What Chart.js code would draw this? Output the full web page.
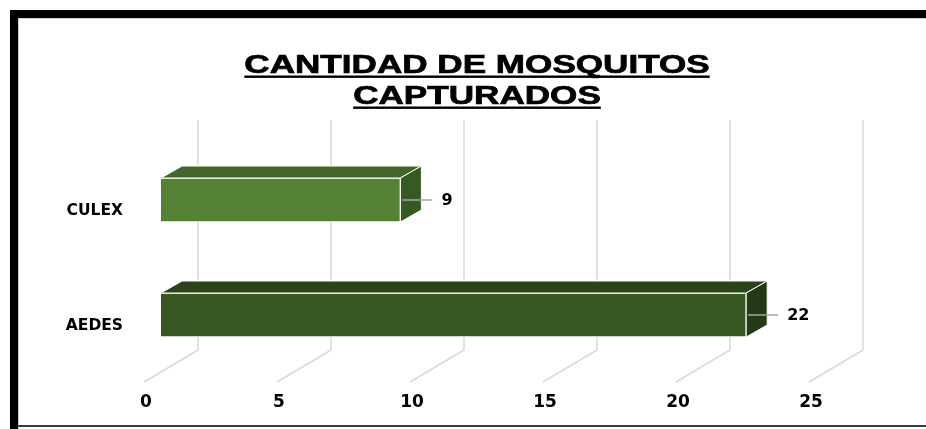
<!DOCTYPE html>
<html>
<head>
<meta charset="utf-8">
<script src="https://cdn.jsdelivr.net/npm/chart.js@4/dist/chart.umd.min.js"></script>
<style>
  html, body { margin: 0; background: #fff; }
  canvas { display: block; }
</style>
</head>
<body>
<canvas id="chart" width="926" height="429"></canvas>
<script>
// data
const categories = ['CULEX', 'AEDES'];
const captured = [9, 22];
const xTicks = [0, 5, 10, 15, 20, 25];
const titleLines = ['CANTIDAD DE MOSQUITOS', 'CAPTURADOS'];

const frontColors = ['#548235', '#385723'];
const topColors = ['#41682a', '#2b431b'];
const sideColors = ['#375a23', '#243916'];

// fake 3D geometry (px)
const DEPTH_X = 21, DEPTH_Y = 12;   // bar extrusion
const WALL_X = 37, WALL_Y = 22.5;   // back wall where the gridlines live
const FLOOR_X = -17, FLOOR_Y = 9.5; // front edge of the floor

const framePlugin = {
  id: 'frame',
  beforeDraw(chart) {
    const ctx = chart.ctx;
    ctx.save();
    ctx.fillStyle = '#fff';
    ctx.fillRect(0, 0, chart.width, chart.height);
    ctx.fillStyle = '#000';
    ctx.fillRect(10, 10, chart.width - 10, 8);
    ctx.fillRect(10, 10, 8, chart.height - 10);
    ctx.strokeStyle = '#cfcfcf';
    ctx.lineWidth = 1;
    ctx.beginPath();
    ctx.moveTo(18, 18.5); ctx.lineTo(chart.width, 18.5);
    ctx.moveTo(18.5, 18); ctx.lineTo(18.5, chart.height);
    ctx.stroke();
    ctx.strokeStyle = '#3a3a3a';
    ctx.lineWidth = 2;
    ctx.beginPath();
    ctx.moveTo(18, 426); ctx.lineTo(chart.width, 426);
    ctx.stroke();
    ctx.restore();
  }
};

const wallPlugin = {
  id: 'wall',
  beforeDatasetsDraw(chart) {
    const ctx = chart.ctx, x = chart.scales.x, a = chart.chartArea;
    ctx.save();
    ctx.strokeStyle = '#d9d9d9';
    ctx.lineWidth = 1.5;
    xTicks.forEach(v => {
      const px = x.getPixelForValue(v);
      ctx.beginPath();
      ctx.moveTo(px + WALL_X, a.top - WALL_Y);
      ctx.lineTo(px + WALL_X, a.bottom - WALL_Y);
      ctx.lineTo(px + FLOOR_X, a.bottom + FLOOR_Y);
      ctx.stroke();
    });
    ctx.restore();
  }
};

const extrudePlugin = {
  id: 'extrude',
  afterDatasetsDraw(chart) {
    const ctx = chart.ctx;
    const meta = chart.getDatasetMeta(0);
    ctx.save();
    ctx.lineJoin = 'round';
    meta.data.forEach((bar, i) => {
      const p = bar.getProps(['x', 'y', 'base', 'height'], true);
      const x0 = p.base, x1 = p.x;
      const yt = p.y - p.height / 2, yb = p.y + p.height / 2;
      ctx.strokeStyle = '#ffffff';
      ctx.lineWidth = 1;
      // top face
      ctx.fillStyle = topColors[i];
      ctx.beginPath();
      ctx.moveTo(x0, yt);
      ctx.lineTo(x0 + DEPTH_X, yt - DEPTH_Y);
      ctx.lineTo(x1 + DEPTH_X, yt - DEPTH_Y);
      ctx.lineTo(x1, yt);
      ctx.closePath();
      ctx.fill(); ctx.stroke();
      // side face
      ctx.fillStyle = sideColors[i];
      ctx.beginPath();
      ctx.moveTo(x1, yt);
      ctx.lineTo(x1 + DEPTH_X, yt - DEPTH_Y);
      ctx.lineTo(x1 + DEPTH_X, yb - DEPTH_Y);
      ctx.lineTo(x1, yb);
      ctx.closePath();
      ctx.fill(); ctx.stroke();

      // data label with leader line
      ctx.strokeStyle = '#a6a6a6';
      ctx.lineWidth = 1.5;
      ctx.beginPath();
      ctx.moveTo(x1 + 2, p.y);
      ctx.lineTo(x1 + 32, p.y);
      ctx.stroke();
      ctx.fillStyle = '#000';
      ctx.font = 'bold 16px "DejaVu Sans"';
      ctx.textAlign = 'left';
      ctx.textBaseline = 'middle';
      ctx.fillText(String(captured[i]), x1 + 41, p.y + 1);
    });
    ctx.restore();
  }
};

// title is drawn by hand so it can be stretched like the original
const titlePlugin = {
  id: 'stretchedTitle',
  afterDraw(chart) {
    const ctx = chart.ctx;
    const cx = 477, stretch = 1.35;
    ctx.save();
    ctx.font = 'bold 26px "Liberation Sans", Arial, sans-serif';
    ctx.fillStyle = '#000';
    ctx.strokeStyle = '#000';
    ctx.lineWidth = 0.7;
    ctx.textAlign = 'center';
    ctx.textBaseline = 'alphabetic';
    titleLines.forEach((line, i) => {
      const base = 72.5 + i * 31;
      const w = ctx.measureText(line).width * stretch;
      ctx.save();
      ctx.translate(cx, base);
      ctx.scale(stretch, 1);
      ctx.fillText(line, 0, 0);
      ctx.strokeText(line, 0, 0);
      ctx.restore();
      ctx.fillRect(cx - w / 2, base + 3, w, 2.4);
    });
    ctx.restore();
  }
};

new Chart(document.getElementById('chart'), {
  type: 'bar',
  data: {
    labels: categories,
    datasets: [{
      data: captured,
      backgroundColor: frontColors,
      borderColor: '#ffffff',
      borderWidth: 1,
      barThickness: 44,
      categoryPercentage: 1
    }]
  },
  options: {
    indexAxis: 'y',
    responsive: false,
    animation: false,
    layout: { padding: { left: 0, right: 100, top: 142.5, bottom: 0 } },
    plugins: {
      legend: { display: false },
      title: { display: false },
      tooltip: { enabled: false }
    },
    scales: {
      x: {
        min: 0, max: 25,
        afterBuildTicks(scale) { scale.ticks = xTicks.map(v => ({ value: v })); },
        afterFit(scale) { scale.height = 56.5; },
        grid: { display: false, drawTicks: false },
        border: { display: false },
        ticks: {
          color: '#000',
          font: { family: '"DejaVu Sans"', size: 17, weight: 'bold' },
          padding: 20,
          labelOffset: -15,
          maxRotation: 0
        }
      },
      y: {
        afterFit(scale) { scale.width = 161; },
        grid: { display: false, drawTicks: false },
        border: { display: false },
        ticks: {
          color: '#000',
          font: { family: '"DejaVu Sans"', size: 15.5, weight: 'bold' },
          padding: 38,
          labelOffset: 11
        }
      }
    }
  },
  plugins: [framePlugin, wallPlugin, extrudePlugin, titlePlugin]
});
</script>
</body>
</html>
